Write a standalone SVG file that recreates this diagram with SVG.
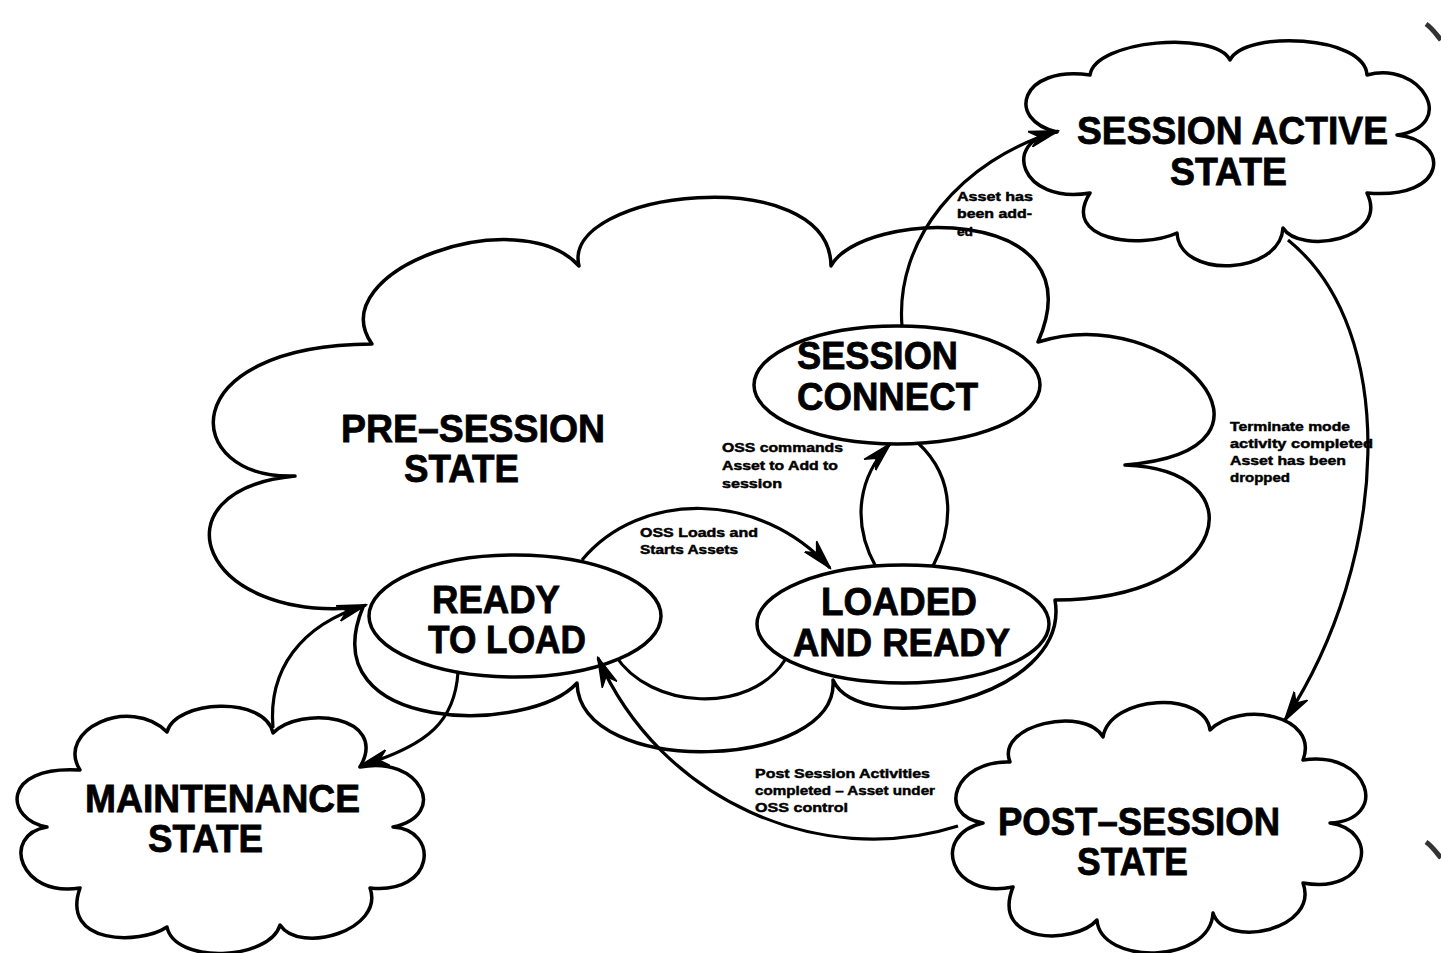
<svg xmlns="http://www.w3.org/2000/svg" width="1441" height="953" viewBox="0 0 1441 953">
<style>
.cloud{fill:#fff;stroke:#000;stroke-width:3.5;stroke-linejoin:round}
.ell{fill:#fff;stroke:#000;stroke-width:3.5}
.con{fill:none;stroke:#000;stroke-width:3.2}
.big{font-family:"Liberation Sans",Arial,sans-serif;font-weight:bold;font-size:39px;fill:#000;stroke:#000;stroke-width:0.8}
.lbl{font-family:"Liberation Sans",Arial,sans-serif;font-weight:bold;font-size:12.5px;fill:#000;stroke:#000;stroke-width:0.45}
</style>
<defs>
<marker id="arr" markerUnits="userSpaceOnUse" markerWidth="32" markerHeight="20" refX="29" refY="10" orient="auto">
<path d="M0,2 L30,10 L0,18 L9,10 Z" fill="#000" stroke="#000" stroke-width="1.5" stroke-linejoin="round"/>
</marker>
</defs>
<rect width="1441" height="953" fill="#fff"/>

<g id="pre-session">
<path class="cloud" d="M363,607 C200,625 150,490 295,476 C180,480 170,345 372,344 C320,270 520,200 579,266 C560,190 830,160 831,266 C860,210 1100,200 1038,342 C1170,300 1310,450 1125,465 C1260,470 1230,600 1055,600 C1072,700 860,740 833,680 C840,770 580,780 577,683 C530,735 310,735 363,607 Z"/>
<path class="con" d="M615,655 C650,710 750,715 785,660"/>
<text class="big" x="341" y="442" font-size="42" textLength="264" lengthAdjust="spacingAndGlyphs">PRE–SESSION</text>
<text class="big" x="404" y="482" font-size="42" textLength="115" lengthAdjust="spacingAndGlyphs">STATE</text>
</g>

<g id="ready-to-load">
<ellipse class="ell" cx="515" cy="616" rx="146" ry="61"/>
<text class="big" x="432" y="613" textLength="128" lengthAdjust="spacingAndGlyphs">READY</text>
<text class="big" x="428" y="653" textLength="158" lengthAdjust="spacingAndGlyphs">TO LOAD</text>
</g>

<g id="loaded-and-ready">
<ellipse class="ell" cx="903" cy="624" rx="146" ry="59"/>
<text class="big" x="821" y="615" textLength="156" lengthAdjust="spacingAndGlyphs">LOADED</text>
<text class="big" x="793" y="656" textLength="217" lengthAdjust="spacingAndGlyphs">AND READY</text>
</g>

<g id="session-connect">
<ellipse class="ell" cx="897" cy="385" rx="143" ry="59"/>
<text class="big" x="797" y="369" textLength="161" lengthAdjust="spacingAndGlyphs">SESSION</text>
<text class="big" x="797" y="410" textLength="181" lengthAdjust="spacingAndGlyphs">CONNECT</text>
</g>

<g id="session-active">
<path class="cloud" d="M1090,75 C1095,40 1215,30 1230,60 C1245,30 1365,35 1367,75 C1420,60 1460,125 1397,135 C1450,140 1450,200 1367,193 C1390,240 1300,255 1283,228 C1280,275 1180,280 1177,233 C1140,250 1060,240 1090,193 C1020,205 1000,140 1057,132 C1005,120 1020,65 1090,75 Z"/>
<text class="big" x="1077" y="144" textLength="311" lengthAdjust="spacingAndGlyphs">SESSION ACTIVE</text>
<text class="big" x="1170" y="185" textLength="117" lengthAdjust="spacingAndGlyphs">STATE</text>
</g>

<g id="maintenance">
<path class="cloud" d="M167,732 C175,700 265,695 273,733 C300,705 390,715 360,767 C420,755 450,815 393,827 C440,830 435,895 370,888 C385,930 300,955 280,925 C270,960 175,965 167,927 C140,945 60,945 80,888 C20,898 0,835 47,827 C5,820 0,765 80,770 C55,730 130,695 167,732 Z"/>
<text class="big" x="85" y="812" textLength="275" lengthAdjust="spacingAndGlyphs">MAINTENANCE</text>
<text class="big" x="148" y="852" textLength="115" lengthAdjust="spacingAndGlyphs">STATE</text>
</g>

<g id="post-session">
<path class="cloud" d="M1010,762 C995,725 1085,705 1103,737 C1110,695 1205,690 1210,730 C1240,700 1320,715 1303,760 C1370,750 1390,820 1330,823 C1380,830 1370,895 1303,883 C1320,930 1225,950 1213,913 C1210,965 1100,965 1097,920 C1075,945 990,945 1013,887 C950,900 930,835 983,823 C935,815 955,760 1010,762 Z"/>
<text class="big" x="998" y="835" textLength="282" lengthAdjust="spacingAndGlyphs">POST–SESSION</text>
<text class="big" x="1077" y="875" textLength="111" lengthAdjust="spacingAndGlyphs">STATE</text>
</g>

<g id="connectors">
<path class="con" marker-end="url(#arr)" d="M902,326 C895,240 960,160 1058,131"/>
<path class="con" marker-end="url(#arr)" d="M876,567 C850,520 860,475 890,444"/>
<path class="con" d="M918,443 C958,480 952,530 933,566"/>
<path class="con" marker-end="url(#arr)" d="M582,560 C640,490 760,490 830,568"/>
<path class="con" marker-end="url(#arr)" d="M273,728 C268,670 300,625 366,605"/>
<path class="con" marker-end="url(#arr)" d="M458,672 C455,720 430,745 360,766"/>
<path class="con" marker-end="url(#arr)" d="M958,826 C820,870 660,800 598,658"/>
<path class="con" marker-end="url(#arr)" d="M1288,240 C1400,330 1390,560 1285,720"/>
</g>

<g id="labels">
<text class="lbl" x="957" y="201" textLength="76" lengthAdjust="spacingAndGlyphs">Asset has</text>
<text class="lbl" x="957" y="218" textLength="75" lengthAdjust="spacingAndGlyphs">been add-</text>
<text class="lbl" x="957" y="236" textLength="16" lengthAdjust="spacingAndGlyphs">ed</text>
<text class="lbl" x="722" y="452" textLength="121" lengthAdjust="spacingAndGlyphs">OSS commands</text>
<text class="lbl" x="722" y="470" textLength="116" lengthAdjust="spacingAndGlyphs">Asset to Add to</text>
<text class="lbl" x="722" y="488" textLength="60" lengthAdjust="spacingAndGlyphs">session</text>
<text class="lbl" x="640" y="537" textLength="118" lengthAdjust="spacingAndGlyphs">OSS Loads and</text>
<text class="lbl" x="640" y="554" textLength="98" lengthAdjust="spacingAndGlyphs">Starts Assets</text>
<text class="lbl" x="1230" y="431" textLength="120" lengthAdjust="spacingAndGlyphs">Terminate mode</text>
<text class="lbl" x="1230" y="448" textLength="143" lengthAdjust="spacingAndGlyphs">activity completed</text>
<text class="lbl" x="1230" y="465" textLength="116" lengthAdjust="spacingAndGlyphs">Asset has been</text>
<text class="lbl" x="1230" y="482" textLength="60" lengthAdjust="spacingAndGlyphs">dropped</text>
<text class="lbl" x="755" y="778" textLength="175" lengthAdjust="spacingAndGlyphs">Post Session Activities</text>
<text class="lbl" x="755" y="795" textLength="180" lengthAdjust="spacingAndGlyphs">completed – Asset under</text>
<text class="lbl" x="755" y="812" textLength="93" lengthAdjust="spacingAndGlyphs">OSS control</text>
</g>

<g id="scan-marks" fill="none" stroke="#333" stroke-width="5">
<path d="M1426,24 C1432,28 1436,34 1441,40"/>
<path d="M1426,842 C1432,846 1436,852 1441,858"/>
</g>
</svg>
